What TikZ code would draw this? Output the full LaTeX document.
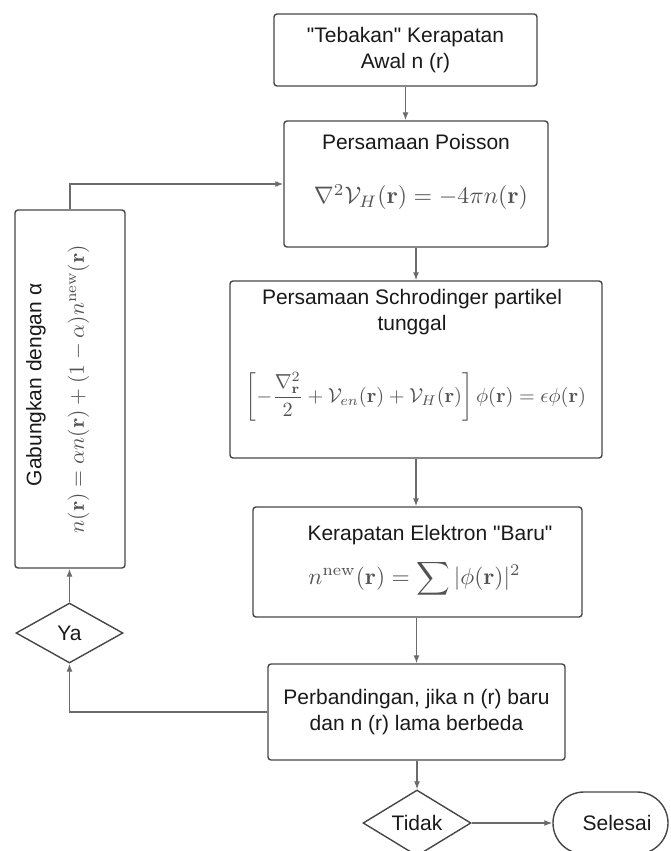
\documentclass[tikz,border=0pt]{standalone}
\usepackage{amsmath}
\usepackage{graphicx}
\usepackage[no-math]{fontspec}
\setmainfont{Liberation Sans}[Ligatures=TeXOff]
\usetikzlibrary{shapes.geometric,arrows.meta}
\begin{document}
\begin{tikzpicture}[x=1pt,y=-1pt,
  box/.style={draw=black!72, line width=1.4pt, rounded corners=3pt, inner sep=0pt, align=center,
    font=\fontsize{21}{26}\selectfont, text=black!90},
  dia/.style={draw=black!72, line width=1.4pt, diamond, inner sep=0pt,
    font=\fontsize{21}{26}\selectfont, text=black!90},
  term/.style={draw=black!72, line width=1.4pt, rounded corners=31pt, inner sep=0pt,
    font=\fontsize{21}{26}\selectfont, text=black!90},
  txt/.style={inner sep=0pt, align=center, font=\fontsize{21}{26}\selectfont, text=black!90},
  eq/.style={inner sep=0pt, text=black!68},
  conn/.style={draw=black!58, line width=1.2pt, -{Latex[length=8pt,width=6pt]}}]
\useasboundingbox (0,0) rectangle (670,851);
\clip (0,0) rectangle (670,851);

% boxes
\node[box, minimum width=263pt, minimum height=72pt] (b1) at (405.5,50) {"Tebakan" Kerapatan\\Awal n (r)};
\node[box, minimum width=264pt, minimum height=126pt] (b2) at (416,184) {};
\node[box, minimum width=372pt, minimum height=177pt] (b3) at (416,369.5) {};
\node[box, minimum width=329pt, minimum height=110pt] (b4) at (417.5,562) {};
\node[box, minimum width=297pt, minimum height=96pt] (b5) at (416.5,712) {Perbandingan, jika n (r) baru\\dan n (r) lama berbeda};
\node[box, minimum width=110pt, minimum height=358pt] (L) at (70,389) {};
\node[dia, minimum width=107pt, minimum height=60pt] (ya) at (69.5,633) {Ya};
\node[dia, minimum width=108pt, minimum height=60pt] (tidak) at (417,823) {Tidak};
\node[term, minimum width=115pt, minimum height=62pt] (sel) at (610.5,823) {};

% texts
\node[txt] (t2) at (416,142) {Persamaan Poisson};
\node[eq] (e2) at (421,197) {\resizebox{214pt}{!}{$\nabla^2\mathcal{V}_H(\mathbf{r}) = -4\pi n(\mathbf{r})$}};
\node[txt] (t3) at (412,312) {Persamaan Schrodinger partikel\\tunggal};
\node[eq] (e3) at (416,397) {\resizebox{340pt}{!}{$\displaystyle\left[-\frac{\nabla_{\mathbf{r}}^2}{2}+\mathcal{V}_{en}(\mathbf{r})+\mathcal{V}_H(\mathbf{r})\right]\phi(\mathbf{r})=\epsilon\phi(\mathbf{r})$}};
\node[txt] (t4) at (430,535) {Kerapatan Elektron "Baru"};
\node[eq] (e4) at (414.5,579) {\resizebox{212pt}{!}{$\displaystyle n^{\mathrm{new}}(\mathbf{r})=\sum|\phi(\mathbf{r})|^2$}};
\node[txt, rotate=90] (tL) at (36,385) {Gabungkan dengan α};
\node[eq, rotate=90] (eL) at (78.5,389) {\resizebox{288pt}{!}{$n(\mathbf{r})=\alpha n(\mathbf{r})+(1-\alpha)n^{\mathrm{new}}(\mathbf{r})$}};
\node[txt] (ts) at (617,823) {Selesai};

% connectors
\draw[conn] (b1.south) -- (b1.south |- b2.north);
\draw[conn] (b2.south) -- (b2.south |- b3.north);
\draw[conn] (b3.south) -- (b3.south |- b4.north);
\draw[conn] (b5.north |- b4.south) -- (b5.north);
\draw[conn] (tidak.north |- b5.south) -- (tidak.north);
\draw[conn] (tidak.east) -- (sel.west);
\draw[conn] (b5.west) -| (ya.south);
\draw[conn] (ya.north) -- (ya.north |- L.south);
\draw[conn] (L.north) |- (b2.west);
\end{tikzpicture}
\end{document}
